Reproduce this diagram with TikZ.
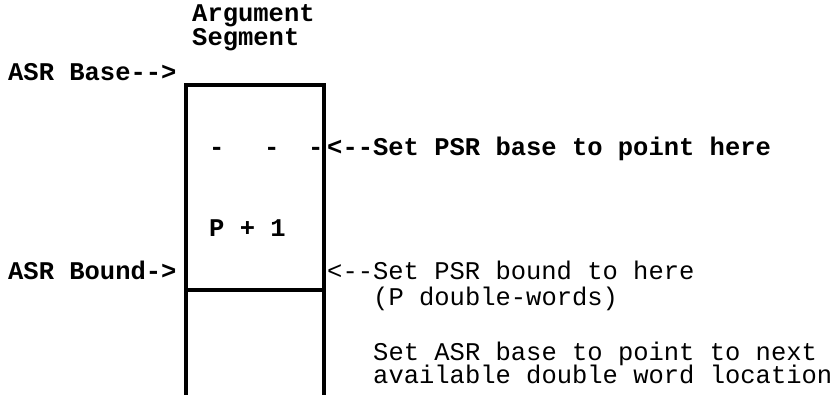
\documentclass[tikz,border=0pt]{standalone}
\usepackage{fontspec}
\setmonofont{Liberation Mono}
\begin{document}
\begin{tikzpicture}[x=1pt,y=-1pt,
  lbl/.style={anchor=base west,inner sep=0pt,font=\ttfamily\fontsize{25.5}{23}\selectfont\bfseries},
  lbr/.style={anchor=base west,inner sep=0pt,font=\ttfamily\fontsize{25.5}{23}\selectfont},
  wall/.style={line width=4pt}]
\useasboundingbox (0,0) rectangle (837,394);
% box
\coordinate (tl) at (186,85);
\coordinate (tr) at (324,85);
\coordinate (bl) at (186,396);
\coordinate (br) at (324,396);
\coordinate (ml) at (186,290);
\coordinate (mr) at (324,290);
\draw[wall,line join=miter] (bl) -- (tl) -- (tr) -- (br);
\draw[wall] (ml) -- (mr);
% labels
\node[lbl] (arg) at (192,21) {Argument};
\node[lbl] (seg) at (192,45) {Segment};
\node[lbl] (asrbase) at (8,80) {ASR Base-{}->};
\node[lbl] (d1) at (209,155) {-};
\node[lbl] (d2) at (264,155) {-};
\node[lbl] (d3) at (308,155) {-};
\node[lbl] (psrbase) at (327,155) {<-{}-Set PSR base to point here};
\node[lbl] (p1) at (209,236) {P + 1};
\node[lbl] (asrbound) at (8,279) {ASR Bound->};
\node[lbr] (psrbound) at (327,279) {<-{}-Set PSR bound to here};
\node[lbr] (pdw) at (373,305) {(P double-words)};
\node[lbr] (set1) at (373,360) {Set ASR base to point to next};
\node[lbr] (set2) at (373,383) {available double word location};
\end{tikzpicture}
\end{document}
